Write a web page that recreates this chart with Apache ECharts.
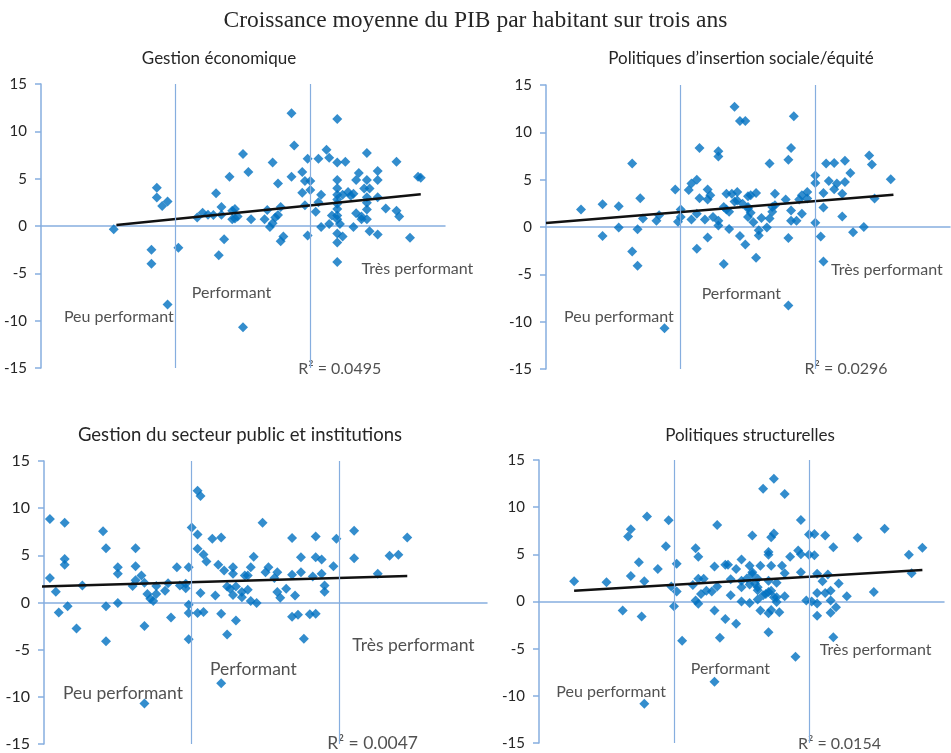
<!DOCTYPE html>
<html>
<head>
<meta charset="utf-8">
<script src="https://cdn.jsdelivr.net/npm/echarts@6/dist/echarts.min.js"></script>
<style>
  html, body { margin: 0; padding: 0; background: #fff; }
  #chart { width: 951px; height: 753px; }
</style>
</head>
<body>
<div id="chart"></div>
<script>
// x = score de performance (sans graduation), y = croissance moyenne du PIB/hab (%)
const MAIN_TITLE = 'Croissance moyenne du PIB par habitant sur trois ans'
const PANEL_TITLES = [
  'Gestion économique',
  'Politiques d’insertion sociale/équité',
  'Gestion du secteur public et institutions',
  'Politiques structurelles',
]
const R2_LABELS = ['R² = 0.0495', 'R² = 0.0296', 'R² = 0.0047', 'R² = 0.0154']
const THRESHOLDS = [3.0, 3.5]
const Y_TICKS = [-15, -10, -5, 0, 5, 10, 15]

const p1 = [
  [2.77,-0.35],[2.93,4.05],[2.93,3.0],[2.95,2.1],[2.97,2.6],[2.91,-2.5],[2.91,-4.0],[2.97,-8.3],[3.01,-2.3],
  [3.08,0.9],[3.10,1.4],[3.12,1.2],[3.14,1.15],[3.15,3.45],[3.17,2.0],[3.17,1.2],[3.16,-3.1],[3.18,-1.4],
  [3.20,5.2],[3.21,1.6],[3.22,1.8],[3.21,0.7],[3.23,1.0],[3.22,0.8],[3.25,7.6],[3.27,5.7],[3.28,0.7],[3.25,-10.7],
  [3.34,1.7],[3.33,0.7],[3.35,-0.1],[3.36,0.3],[3.36,6.7],[3.37,0.9],[3.38,4.5],[3.38,1.15],[3.39,2.0],
  [3.39,-1.6],[3.40,-1.1],[3.43,11.9],[3.44,8.5],[3.43,5.2],[3.47,5.7],[3.47,3.5],[3.48,2.2],[3.48,4.75],
  [3.49,7.1],[3.50,4.75],[3.50,3.8],[3.49,-1.0],[3.52,1.5],[3.53,7.1],[3.54,3.3],[3.53,2.5],[3.54,-0.1],
  [3.56,8.05],[3.57,7.2],[3.57,0.2],[3.58,1.1],[3.60,11.3],[3.60,6.7],[3.63,6.8],[3.60,4.85],[3.60,4.0],
  [3.60,3.3],[3.60,2.8],[3.60,2.35],[3.60,1.8],[3.60,1.1],[3.60,0.7],[3.61,0.2],[3.60,-0.8],[3.60,-1.75],
  [3.60,-3.8],[3.62,-1.1],[3.62,3.3],[3.64,3.6],[3.65,3.2],[3.66,3.4],[3.66,-0.1],[3.67,4.85],[3.68,5.6],
  [3.67,1.35],[3.69,0.7],[3.69,1.0],[3.71,7.7],[3.71,4.85],[3.70,3.95],[3.72,3.95],[3.71,3.05],[3.71,2.45],
  [3.71,1.75],[3.71,0.7],[3.72,-0.55],[3.75,5.8],[3.75,4.85],[3.75,3.05],[3.75,-0.9],[3.78,1.85],[3.82,6.8],
  [3.82,1.6],[3.83,1.0],[3.87,-1.25],[3.90,5.2],[3.91,5.1],
]
const p2 = [
  [2.63,1.85],[2.71,2.4],[2.71,-0.95],[2.77,2.2],[2.77,-0.05],[2.82,6.7],[2.85,3.05],[2.84,-0.25],[2.82,-2.6],
  [2.84,-4.1],[2.86,0.9],[2.92,1.25],[2.91,0.65],[2.94,-10.7],[2.98,3.95],[3.00,1.85],[3.00,1.05],[2.99,0.55],
  [3.03,3.9],[3.04,4.6],[3.06,5.0],[3.04,0.8],[3.06,1.4],[3.06,-2.3],[3.07,8.35],[3.07,3.05],[3.10,3.95],
  [3.10,2.9],[3.11,3.35],[3.09,0.8],[3.10,-1.1],[3.12,1.05],[3.14,7.45],[3.14,8.0],[3.14,0.65],[3.14,0.15],
  [3.16,-3.9],[3.16,2.1],[3.17,1.85],[3.17,3.5],[3.18,-0.2],[3.18,1.6],[3.20,12.7],[3.19,3.5],[3.20,2.7],
  [3.21,3.7],[3.21,2.8],[3.22,11.2],[3.24,11.2],[3.22,-0.95],[3.23,2.45],[3.24,-1.85],[3.25,3.25],[3.25,2.1],
  [3.25,1.05],[3.26,1.5],[3.26,3.35],[3.28,3.6],[3.28,-3.25],[3.29,-0.35],[3.29,-0.9],[3.30,0.95],[3.32,-0.05],
  [3.33,0.9],[3.33,6.7],[3.34,1.6],[3.35,2.3],[3.35,3.5],[3.39,2.9],[3.40,7.1],[3.41,8.35],[3.40,-1.15],
  [3.41,1.75],[3.41,0.65],[3.42,11.7],[3.43,0.65],[3.44,2.9],[3.45,1.4],[3.45,3.35],[3.47,3.7],[3.47,3.0],
  [3.40,-8.3],[3.50,5.45],[3.50,4.65],[3.50,0.45],[3.52,-1.0],[3.53,3.6],[3.53,2.05],[3.53,-3.65],[3.54,6.7],
  [3.55,4.85],[3.57,6.75],[3.57,4.0],[3.58,4.6],[3.60,3.5],[3.60,1.1],[3.61,7.0],[3.61,4.75],[3.63,5.7],
  [3.64,-0.55],[3.68,0.0],[3.70,7.55],[3.71,6.6],[3.72,3.0],[3.78,5.05],[3.25,1.95],[3.27,0.5],[3.34,2.1],
]
const p3 = [
  [2.49,4.8],[2.52,8.85],[2.52,2.6],[2.54,1.15],[2.55,-1.05],[2.57,8.45],[2.57,4.0],[2.57,4.6],[2.58,-0.4],
  [2.61,-2.75],[2.63,1.8],[2.70,7.55],[2.71,5.75],[2.71,-0.4],[2.71,-4.1],[2.75,-0.05],[2.75,3.75],[2.75,3.05],
  [2.80,1.75],[2.81,2.35],[2.81,5.75],[2.81,3.85],[2.83,2.85],[2.84,-2.5],[2.84,2.1],[2.85,0.9],[2.84,-10.7],
  [2.86,0.4],[2.87,0.15],[2.88,1.75],[2.88,0.9],[2.91,1.25],[2.92,2.05],[2.93,-1.6],[2.95,3.75],[2.96,1.8],
  [2.98,2.0],[2.98,1.5],[2.99,3.75],[2.99,-0.25],[2.99,-1.1],[2.99,-3.9],[3.00,7.95],[3.02,11.85],[3.03,11.3],
  [3.02,7.2],[3.02,5.7],[3.03,1.0],[3.02,-1.1],[3.04,5.1],[3.05,4.35],[3.04,-1.0],[3.07,6.75],[3.10,6.9],
  [3.08,0.75],[3.09,4.0],[3.11,3.4],[3.10,-1.2],[3.12,1.7],[3.12,-3.4],[3.10,-8.55],[3.13,1.45],[3.14,3.75],
  [3.14,3.05],[3.15,-1.9],[3.15,1.7],[3.14,0.8],[3.17,1.1],[3.17,0.55],[3.18,2.85],[3.20,3.75],[3.19,2.85],
  [3.19,1.35],[3.20,0.15],[3.21,4.85],[3.22,-0.05],[3.24,8.45],[3.25,3.2],[3.26,3.75],[3.28,2.6],[3.29,3.2],
  [3.29,1.1],[3.30,0.5],[3.32,1.45],[3.34,6.85],[3.34,2.95],[3.35,0.75],[3.34,-1.5],[3.36,-1.3],[3.37,4.8],
  [3.37,3.2],[3.38,-3.85],[3.40,-1.25],[3.42,-1.2],[3.41,2.75],[3.42,7.0],[3.42,4.8],[3.44,4.55],[3.44,3.05],
  [3.45,1.8],[3.45,1.15],[3.48,3.85],[3.49,6.75],[3.55,7.6],[3.55,4.7],[3.63,3.05],[3.67,4.95],[3.70,5.05],
  [3.73,6.9],
]
const p4 = [
  [2.63,2.15],[2.75,2.05],[2.81,-0.95],[2.83,6.9],[2.84,7.65],[2.87,4.15],[2.84,2.7],[2.88,-1.6],[2.89,2.15],
  [2.90,9.0],[2.89,-10.85],[2.94,3.45],[2.97,5.85],[2.98,8.6],[2.99,1.6],[3.01,1.05],[3.00,-0.5],[3.01,4.0],
  [3.03,-4.15],[3.07,1.75],[3.08,5.65],[3.09,4.75],[3.09,2.4],[3.11,2.4],[3.08,0.1],[3.09,-0.25],[3.10,0.8],
  [3.12,1.15],[3.14,1.05],[3.15,-0.95],[3.15,3.7],[3.16,8.1],[3.16,1.6],[3.17,-3.85],[3.15,-8.5],[3.19,3.9],
  [3.20,3.9],[3.19,-1.85],[3.21,2.35],[3.21,0.65],[3.23,3.45],[3.23,-2.35],[3.25,4.45],[3.25,1.5],[3.25,2.2],
  [3.25,0.0],[3.27,2.45],[3.28,3.8],[3.28,-0.15],[3.29,7.0],[3.29,3.1],[3.30,1.9],[3.31,1.2],[3.31,0.2],
  [3.32,3.8],[3.32,-0.95],[3.33,11.95],[3.34,0.8],[3.35,5.25],[3.35,4.95],[3.35,-3.25],[3.35,-1.25],[3.35,2.2],
  [3.36,6.8],[3.37,7.2],[3.37,13.0],[3.36,3.8],[3.36,1.15],[3.37,0.45],[3.36,-0.9],[3.38,2.0],[3.38,-0.05],
  [3.39,-1.15],[3.41,11.4],[3.40,3.8],[3.41,3.0],[3.41,0.55],[3.43,4.75],[3.45,-5.85],[3.46,5.4],[3.47,8.65],
  [3.47,5.0],[3.47,3.1],[3.49,0.1],[3.50,7.1],[3.52,7.15],[3.50,4.95],[3.52,4.9],[3.51,0.0],[3.53,0.9],
  [3.53,-1.5],[3.53,2.95],[3.53,-0.2],[3.55,2.15],[3.56,7.0],[3.57,2.85],[3.56,0.9],[3.58,1.15],[3.58,0.1],
  [3.58,-1.2],[3.59,5.75],[3.59,-3.8],[3.60,-0.6],[3.61,1.9],[3.64,0.55],[3.68,6.75],[3.74,1.0],[3.78,7.7],
  [3.87,4.95],[3.88,3.0],[3.92,5.7],[3.29,2.9],[3.31,2.4],[3.28,1.8],[3.31,1.5],[3.33,0.65],[3.35,1.0],[3.38,0.45],
]

// tendances linéaires (extrémités)
const trend1 = [[2.78,0.1],[3.91,3.35]]
const trend2 = [[2.5,0.42],[3.79,3.4]]
const trend3 = [[2.49,1.7],[3.73,2.8]]
const trend4 = [[2.63,1.15],[3.92,3.35]]

// annotations: [x, y, texte]
const notes1 = [[2.585,-9.6,'Peu performant'],[3.06,-7.1,'Performant'],[3.69,-4.55,'Très performant'],[3.455,-15.1,R2_LABELS[0]]]
const notes2 = [[2.567,-9.5,'Peu performant'],[3.078,-7.05,'Performant'],[3.558,-4.5,'Très performant'],[3.46,-15.0,R2_LABELS[1]]]
const notes3 = [[2.564,-9.6,'Peu performant'],[3.062,-7.1,'Performant'],[3.544,-4.5,'Très performant'],[3.459,-14.95,R2_LABELS[2]]]
const notes4 = [[2.564,-9.6,'Peu performant'],[3.062,-7.15,'Performant'],[3.54,-5.1,'Très performant'],[3.459,-15.1,R2_LABELS[3]]]

const PANELS = [
  { pts: p1, trend: trend1, notes: notes1, fs: 16 },
  { pts: p2, trend: trend2, notes: notes2, fs: 16 },
  { pts: p3, trend: trend3, notes: notes3, fs: 17.5 },
  { pts: p4, trend: trend4, notes: notes4, fs: 16 },
]

const GRIDS = [
  { left: 41, top: 84, width: 404, height: 284 },
  { left: 546, top: 85, width: 404, height: 284 },
  { left: 44, top: 461, width: 443, height: 283 },
  { left: 539, top: 460, width: 405, height: 283 },
]
const TITLE_POS = [[214, 45], [736, 45], [235, 421], [745, 422]]
const TITLE_FS = [17, 17, 18.5, 17]

const AXIS_BLUE = '#86AEDF'
const DOT = '#0070C0'
const TEXT = '#262626'
const FONT = 'Lato, "Open Sans", sans-serif'

const chart = echarts.init(document.getElementById('chart'))

const series = []
PANELS.forEach((p, i) => {
  series.push({
    type: 'scatter',
    xAxisIndex: i, yAxisIndex: i,
    symbol: 'diamond',
    symbolSize: 10,
    itemStyle: { color: DOT },
    data: p.pts,
    z: 3,
    markLine: {
      silent: true,
      symbol: 'none',
      label: { show: false },
      lineStyle: { color: AXIS_BLUE, width: 1.2, type: 'solid' },
      data: THRESHOLDS.map(t => ({ xAxis: t })),
    },
  })
  series.push({
    type: 'line',
    xAxisIndex: i, yAxisIndex: i,
    data: p.trend,
    symbol: 'none',
    lineStyle: { color: '#111', width: 2.5 },
    z: 4,
  })
  series.push({
    type: 'scatter',
    xAxisIndex: i, yAxisIndex: i,
    symbolSize: 0,
    clip: false,
    silent: true,
    data: p.notes.map(n => ({ value: [n[0], n[1]], name: n[2] })),
    label: {
      show: true, position: 'right', distance: 0,
      formatter: '{b}', fontSize: p.fs, color: TEXT, fontFamily: FONT,
    },
  })
})

chart.setOption({
  animation: false,
  backgroundColor: '#fff',
  title: [
    {
      text: MAIN_TITLE, left: 'center', top: 4,
      textStyle: { fontFamily: '"Liberation Serif", serif', fontWeight: 'normal', fontSize: 23.5, color: TEXT },
    },
    ...PANEL_TITLES.map((t, i) => ({
      text: t, left: TITLE_POS[i][0], top: TITLE_POS[i][1], textAlign: 'center',
      textStyle: { fontFamily: FONT, fontWeight: 'normal', fontSize: TITLE_FS[i], color: TEXT },
    })),
  ],
  grid: GRIDS,
  xAxis: GRIDS.map((g, i) => ({
    type: 'value', gridIndex: i, min: 2.5, max: 4.0,
    axisLine: { onZero: true, lineStyle: { color: AXIS_BLUE, width: 1.5 } },
    axisTick: { show: false },
    axisLabel: { show: false },
    splitLine: { show: false },
  })),
  yAxis: GRIDS.map((g, i) => ({
    type: 'value', gridIndex: i,
    min: Y_TICKS[0], max: Y_TICKS[Y_TICKS.length - 1], interval: 5,
    axisLine: { show: true, onZero: false, lineStyle: { color: AXIS_BLUE, width: 1.5 } },
    axisTick: { show: true, length: 6, lineStyle: { color: AXIS_BLUE, width: 1.5 } },
    axisLabel: { fontSize: i === 2 ? 16 : 15, color: TEXT, fontFamily: FONT, margin: 14 },
    splitLine: { show: false },
  })),
  series,
})
</script>
</body>
</html>
